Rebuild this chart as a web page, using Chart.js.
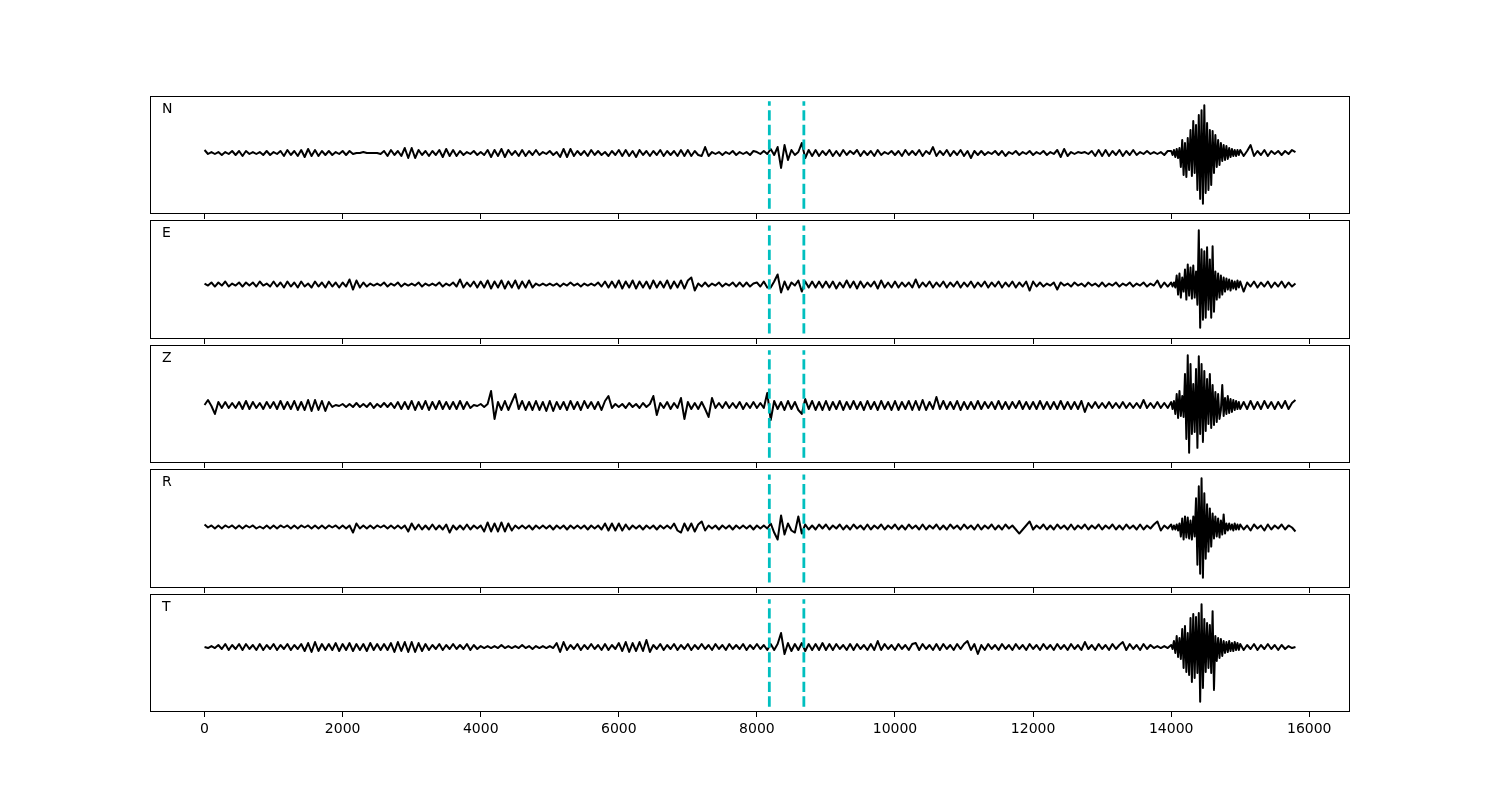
<!DOCTYPE html>
<html>
<head>
<meta charset="utf-8">
<script src="https://cdn.jsdelivr.net/npm/chart.js@4.4.1/dist/chart.umd.min.js"></script>
<style>
  html, body { margin: 0; padding: 0; background: #fff; }
  #fig { position: relative; width: 1500px; height: 800px; overflow: hidden; }
  #fig canvas { position: absolute; left: 150px; }
</style>
</head>
<body>
<div id="fig"></div>
<script>
// sampling of the traces (seconds)
const coarseStep = 50;                     // 0 .. 13950
const burstStart = 14000, burstStep = 20;  // 14000 .. 14980
const tailStart = 15000, tailStep = 50;    // 15000 .. 15800

const tickValues = [0, 2000, 4000, 6000, 8000, 10000, 12000, 14000, 16000];

// N component
const nCoarse = [
  5,1,3,1,3,0,3,1,4,0,4,-1,4,1,3,1,3,0,4,0,
  3,1,4,-1,5,0,4,-1,5,-2,6,-1,5,-1,4,0,4,0,3,1,
  4,0,4,1,2,2,3,2,2,2,2,1,4,-1,5,0,4,-1,7,-3,
  7,-3,5,0,4,-1,4,0,5,-2,6,-1,5,-1,4,0,3,1,4,0,
  3,0,5,-2,5,-1,6,-2,5,0,4,-1,5,-1,4,0,5,0,3,1,
  4,0,3,-2,6,-2,6,-1,4,0,4,-1,5,0,4,0,3,-1,4,0,
  5,-1,5,-1,4,-2,5,0,4,-1,4,0,5,-1,4,0,4,-1,5,-1,
  5,-1,4,0,-1,8,-1,3,1,3,0,3,1,4,0,3,1,3,0,4,
  3,1,4,1,6,0,8,-13,10,-5,5,0,3,12,-3,5,-1,5,-1,4,
  0,5,-1,4,-1,5,0,4,1,5,-1,4,0,4,-1,5,0,3,1,4,
  0,4,-1,5,0,4,0,5,-1,4,1,8,-1,4,0,5,-1,4,0,5,
  -1,4,-3,4,0,4,0,3,1,4,0,4,-1,3,1,4,0,3,1,4,
  0,3,1,4,0,3,1,5,-2,6,-1,3,1,3,2,3,1,4,-1,5,
  -1,5,-1,4,0,5,-1,4,0,5,0,3,1,4,1,3,1,3,0,4
];
const nBurst = [
  4,0,5,-2,6,-3,7, -12,15,-20,12,-22,17, -15,25,-21,34,-18,
  30,-35,40,-44,45,-49,50,-38, 32,-35,25,-30, 24,-18,20,-12,15,
  -10,12,-6,10,-5,9,-4,7, -2,6,-1,5,-1,5,0
];
const nTail = [5,-1,4,10,-1,4,0,5,-1,4,1,4,0,4,1,5,3];

// E component
const eCoarse = [
  -4,-6,-3,-7,-3,-6,-2,-7,-4,-6,-3,-7,-3,-6,-3,-7,-2,-6,-4,-7,
  -2,-7,-3,-8,-2,-7,-3,-8,-2,-7,-4,-8,-2,-7,-3,-8,-2,-7,-3,-8,
  -3,-7,0,-10,-1,-8,-3,-7,-4,-6,-4,-6,-3,-7,-4,-6,-3,-7,-4,-6,
  -4,-6,-3,-7,-4,-6,-4,-6,-3,-7,-4,-6,-3,-7,0,-8,-3,-7,-2,-8,
  -2,-8,-1,-9,-2,-8,-1,-9,-2,-8,-1,-9,-2,-8,-1,-8,-4,-6,-4,-6,
  -4,-6,-4,-7,-4,-6,-3,-6,-4,-7,-4,-6,-4,-6,-3,-7,-2,-8,-2,-8,
  -1,-9,-2,-8,-1,-9,-2,-8,-2,-9,-1,-8,-2,-8,-1,-9,-2,-8,-1,-9,
  -1,2,-11,-4,-7,-3,-7,-4,-6,-3,-7,-4,-6,-3,-7,-3,-7,-3,-7,-4,
  -3,-7,-2,-8,-8,-2,5,-13,-2,-10,-3,-6,-1,-12,-2,-8,-2,-8,-2,-8,
  -2,-8,-2,-9,-3,-8,-1,-8,-2,-9,-2,-8,-3,-7,-2,-9,-1,-8,-3,-8,
  -2,-8,-3,-7,-3,-8,0,-8,-3,-7,-2,-8,-3,-7,-2,-8,-3,-7,-2,-8,
  -3,-7,-2,-8,-3,-7,-2,-8,-3,-7,-2,-8,-3,-7,-2,-8,-3,-7,-2,-11,
  -2,-7,-3,-7,-4,-6,-3,-10,-3,-6,-4,-7,-3,-6,-4,-7,-3,-6,-4,-7,
  -3,-7,-4,-6,-3,-7,-4,-6,-3,-7,-4,-6,-3,-7,-4,-6,-1,-8,-3,-7
];
const eBurst = [
  -3,-7,-3,-8, 4,-15,6,-18,2,-12, 10,-20,15,-16,12,-19,14,-18,8,
  -25,49,-48,30,-40, 28,-38,32,-30, 20,-38,33,-32, 8,-20,6,-18,4,-15,2,
  -12,1,-10,0,-11,-1,-9,-2,-10,-1,-8
];
const eTail = [-2,-12,-3,-7,-2,-8,-3,-7,-2,-8,-3,-7,-2,-8,-3,-7,-4];

// Z component
const zCoarse = [
  -1,4,-2,-10,2,-4,2,-4,1,-4,2,-5,3,-5,2,-4,1,-5,2,-4,
  2,-5,3,-5,2,-5,3,-6,2,-6,4,-7,4,-6,3,-7,2,-3,-1,-2,
  0,-3,0,-3,1,-3,0,-3,1,-4,0,-3,1,-3,1,-4,2,-5,2,-5,
  3,-6,2,-5,3,-6,2,-5,3,-5,2,-5,2,-5,3,-5,2,-4,-1,-2,
  0,-3,0,13,-15,2,-6,3,-6,2,10,-5,3,-6,2,-6,3,-6,2,-7,
  3,-7,2,-5,2,-6,3,-5,2,-6,3,-4,2,-5,2,-6,3,8,-4,0,
  -3,0,-4,1,-3,0,-4,1,-3,0,8,-11,1,-4,2,-5,1,-4,6,-15,
  2,-5,1,-5,2,-5,-13,6,-4,1,-4,2,-4,1,-4,2,-5,1,-4,2,
  -4,1,-4,11,-16,3,-5,2,-6,3,-5,2,-6,-10,5,-5,3,-6,2,-6,
  3,-6,2,-5,3,-6,2,-5,3,-5,2,-6,3,-5,2,-6,3,-5,2,-6,
  3,-6,2,-5,3,-6,3,-6,4,-6,2,-5,7,-5,3,-5,2,-5,3,-6,
  2,-5,2,-5,3,-5,2,-4,2,-5,3,-5,2,-5,2,-4,3,-5,2,-5,
  2,-5,3,-5,2,-5,2,-5,3,-5,2,-5,2,-5,3,-8,1,-4,2,-4,
  1,-4,2,-4,1,-4,2,-4,1,-4,1,-4,4,-4,1,-4,2,-4,1,-4
];
const zBurst = [
  2,-5,3, -10,10,-14,13,-12,8,-13, 30,-35,49,-49,40,-30, 20,-28,
  35,-44,48,-30,40,-38, 33,-27,25,-20,30,-24,
  19,-21,12,-18,10,-15,-6,19,-12,6, -10,8,-9,5,-8,4,-6,3,-5,2
];
const zTail = [-5,2,-5,3,-5,2,-5,3,-4,2,-5,2,-4,3,-5,1,4];

// R component
const rCoarse = [
  4,1,3,0,3,0,3,1,3,0,3,0,3,1,3,0,2,0,3,0,
  3,0,3,1,3,0,3,0,3,1,3,0,3,0,3,0,3,1,3,0,
  3,0,3,-4,5,0,3,0,3,0,3,1,3,0,3,0,3,0,3,-3,
  5,-1,4,-1,3,-1,4,-1,3,-1,4,-4,3,-1,3,-1,4,-1,3,0,
  3,-3,6,-3,5,-3,6,-3,5,-2,3,0,3,0,3,-1,3,0,3,0,
  3,-1,3,0,3,-1,3,0,3,0,3,-1,3,0,3,-1,5,-2,5,-2,
  5,-2,4,-1,3,0,3,-1,3,0,3,-1,3,0,3,0,5,-2,-4,5,
  -2,5,-3,4,7,-2,3,0,3,-1,3,0,3,-1,3,0,3,0,3,-1,
  3,0,3,0,5,-4,-11,13,-6,5,-2,-4,12,-5,4,-1,3,-1,4,0,
  4,-1,3,0,4,-1,3,-1,4,0,3,-1,4,-1,3,0,4,-1,3,0,
  4,-1,3,-1,4,0,3,-1,4,-1,3,0,4,-1,3,-1,4,0,3,-1,
  4,0,3,-1,4,-1,3,0,4,-1,3,-1,4,0,3,-1,-5,-1,3,7,
  -1,3,0,4,-1,3,-1,4,0,3,-1,4,-1,3,0,4,-1,3,0,4,
  -1,3,0,4,-1,3,-1,4,0,3,-1,4,-1,3,0,4,7,-2,3,0
];
const rBurst = [
  4,-1,3,-1,4,-2,5, -8,10,-11,12,-9,11,-10,8,-11,12,-8,
  30,-36,42,-45,50,-49,35,-30, 24,-23,20,-18,15,
  -10,12,-8,10,-9,8,-6,14,-5, 5,-2,5,-1,4,-2,5,-1,4,-1
];
const rTail = [4,-1,3,-2,4,0,3,-2,4,-1,3,0,4,-1,3,1,-3];

// T component
const tCoarse = [
  6,5,7,5,8,4,9,3,8,4,9,3,9,4,8,3,9,3,8,4,
  9,3,8,4,9,3,8,4,9,2,10,1,11,2,9,3,9,3,10,2,
  9,3,10,2,9,3,9,2,10,3,9,3,9,3,10,1,11,2,11,1,
  11,1,10,2,9,3,8,4,9,3,8,4,9,4,8,4,9,3,8,4,
  7,5,7,5,7,5,8,5,7,5,7,5,8,5,7,4,7,5,7,5,
  7,5,10,1,11,3,8,4,9,3,8,4,9,4,8,3,9,3,8,4,
  10,2,11,1,10,2,11,2,13,1,8,4,9,3,8,4,9,3,8,4,
  9,3,8,4,9,4,8,3,9,4,8,3,9,4,8,4,9,3,8,4,
  9,4,8,3,9,3,9,20,-1,10,2,9,3,10,2,9,3,9,3,10,
  3,9,3,9,4,8,3,9,3,9,4,8,3,9,3,12,3,9,4,8,
  3,9,4,8,3,9,10,3,9,4,8,3,9,3,9,4,8,3,9,4,
  9,12,3,9,-1,8,3,9,4,8,3,9,4,8,3,9,4,8,3,9,
  4,8,3,9,4,8,3,9,4,8,3,9,4,8,3,11,4,8,3,9,
  4,8,3,9,4,8,11,3,9,4,8,3,9,4,8,5,7,5,7,5
];
const tBurst = [
  8,4, 12,0,17,-4,15,-6, 24,-15,27,-19,20, -22,35,-29,39,-25,36,-20,
  40,-49,49,-35, 34,-19,30,-15,28, -20,42,-37, 17,-8,15,-5,14,-3,
  12,0,11,1,12,2,10,2,11,3,10,3
];
const tTail = [9,3,8,4,9,3,8,4,9,4,8,3,8,4,7,5,6];

const components = ['N', 'E', 'Z', 'R', 'T'];
const picks = [8180, 8680];   // marker times
const pickHalf = 53.8;        // half height of the marker lines

const fig = document.getElementById('fig');
const panelTop = [96, 220, 345, 469, 594];
const panelH = [118, 119, 118, 119, 118];

function trace(coarse, burst, tail) {
  const pts = [];
  coarse.forEach((v, i) => pts.push({ x: i * coarseStep, y: v }));
  burst.forEach((v, i) => pts.push({ x: burstStart + i * burstStep, y: v }));
  tail.forEach((v, i) => pts.push({ x: tailStart + i * tailStep, y: v }));
  return pts;
}

const traces = [
  trace(nCoarse, nBurst, nTail),
  trace(eCoarse, eBurst, eTail),
  trace(zCoarse, zBurst, zTail),
  trace(rCoarse, rBurst, rTail),
  trace(tCoarse, tBurst, tTail)
];

// frame + component name
const boxPlugin = {
  id: 'box',
  afterDraw(chart, args, opts) {
    const { ctx, chartArea: a } = chart;
    ctx.save();
    ctx.strokeStyle = '#000';
    ctx.lineWidth = 1;
    ctx.strokeRect(a.left + 0.5, a.top + 0.5, a.right - a.left - 1, a.bottom - a.top - 1);
    ctx.fillStyle = '#000';
    ctx.font = '14px "DejaVu Sans"';
    ctx.fillText(opts.label, a.left + 12, a.top + 17);
    ctx.restore();
  }
};

components.forEach((name, i) => {
  const last = i === components.length - 1;
  const canvas = document.createElement('canvas');
  canvas.width = 1200;
  canvas.height = panelH[i] + 40;
  canvas.style.top = panelTop[i] + 'px';
  fig.appendChild(canvas);

  const yLim = pickHalf * 1.1;
  new Chart(canvas, {
    type: 'line',
    data: {
      datasets: [
        ...picks.map(p => ({
          data: [{ x: p, y: -pickHalf }, { x: p, y: pickHalf }],
          borderColor: '#00bfbf', borderWidth: 2.8, borderDash: [10.3, 4.4],
          borderCapStyle: 'butt', pointRadius: 0
        })),
        {
          data: traces[i], borderColor: '#000', borderWidth: 2,
          borderJoinStyle: 'round', pointRadius: 0, tension: 0
        }
      ]
    },
    options: {
      responsive: false,
      animation: false,
      devicePixelRatio: 1,
      layout: { padding: 0 },
      plugins: { legend: { display: false }, tooltip: { enabled: false }, box: { label: name } },
      scales: {
        x: {
          type: 'linear', min: -790, max: 16590,
          border: { display: false },
          grid: { drawOnChartArea: false, drawTicks: true, tickLength: 5, tickWidth: 1, tickColor: '#000' },
          afterBuildTicks: s => { s.ticks = tickValues.map(v => ({ value: v })); },
          ticks: {
            display: last, autoSkip: false, maxRotation: 0,
            color: '#000', padding: 4, font: { family: 'DejaVu Sans', size: 14 },
            callback: v => String(v)
          },
          afterFit: s => { s.height = 40; }
        },
        y: { display: false, min: -yLim, max: yLim }
      }
    },
    plugins: [boxPlugin]
  });
});
</script>
</body>
</html>
